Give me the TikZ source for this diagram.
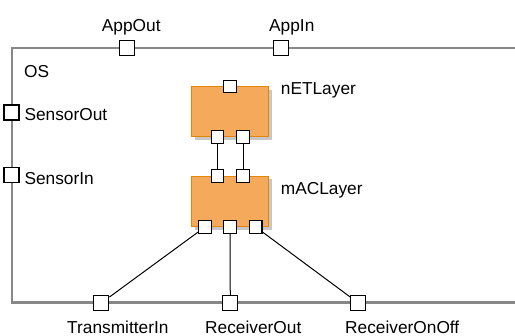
\documentclass[tikz,border=0pt]{standalone}
\usepackage{fontspec}
\setmainfont{Liberation Sans}
\begin{document}
\begin{tikzpicture}[x=1pt,y=-1pt,
  frame/.style={draw=black!47,line width=2.6pt},
  block/.style={draw=orange!85!yellow!90!black,fill={rgb,255:red,245;green,169;blue,90},line width=1pt,minimum width=77pt,minimum height=50.5pt,inner sep=0pt},
  shadow/.style={fill=black!22},
  port/.style={draw=black,fill=white,line width=1.1pt,minimum size=12.5pt,inner sep=0pt},
  bport/.style={port,minimum size=15pt},
  lbl/.style={anchor=base west,inner sep=0pt,font=\fontsize{17.3}{20}\selectfont},
  wire/.style={draw=black,line width=1pt}]
\useasboundingbox (0,0) rectangle (515,336);
% OS frame
\draw[frame] (516,48) -- (12,48) -- (12,302.5) -- (516,302.5);
\node[lbl] (os) at (24,78) {OS};
% shadows
\fill[shadow] (194.7,89.7) rectangle (272,140);
\fill[shadow] (194.7,178.7) rectangle (272,230.3);
% blocks
\node[block] (net) at (230.3,111.7) {};
\node[block] (mac) at (230.3,201.3) {};
\node[lbl] (netl) at (280.7,94.3) {nETLayer};
\node[lbl] (macl) at (280.7,195) {mACLayer};
% block ports
\node[port] (ntop) at (230,86.7) {};
\node[port] (nb1) at (217.5,137) {};
\node[port] (nb2) at (243,137) {};
\node[port] (mt1) at (217.5,176) {};
\node[port] (mt2) at (243,176) {};
\node[port] (mb1) at (205,227) {};
\node[port] (mb2) at (230,227) {};
\node[port] (mb3) at (255.7,227) {};
% outer ports
\node[bport] (appout) at (127,48) {};
\node[bport] (appin) at (281,48) {};
\node[bport] (sout) at (11.5,112.5) {};
\node[bport] (sin) at (11.5,175) {};
\node[bport] (tin) at (101.3,303) {};
\node[bport] (rout) at (230.3,303) {};
\node[bport] (ronoff) at (358.3,303) {};
% labels
\node[lbl] (appoutl) at (101.7,32) {AppOut};
\node[lbl] (appinl) at (269,32) {AppIn};
\node[lbl] (soutl) at (24.3,120.3) {SensorOut};
\node[lbl] (sinl) at (24.3,184.3) {SensorIn};
\node[lbl] (tinl) at (67,333.5) {TransmitterIn};
\node[lbl] (routl) at (205,333.5) {ReceiverOut};
\node[lbl] (ronoffl) at (345,333.5) {ReceiverOnOff};
% wires
\draw[wire] (nb1) -- (mt1);
\draw[wire] (nb2) -- (mt2);
\draw[wire] (mb1) -- (tin);
\draw[wire] (mb2) -- (rout);
\draw[wire] (mb3) -- (ronoff);
\end{tikzpicture}
\end{document}
